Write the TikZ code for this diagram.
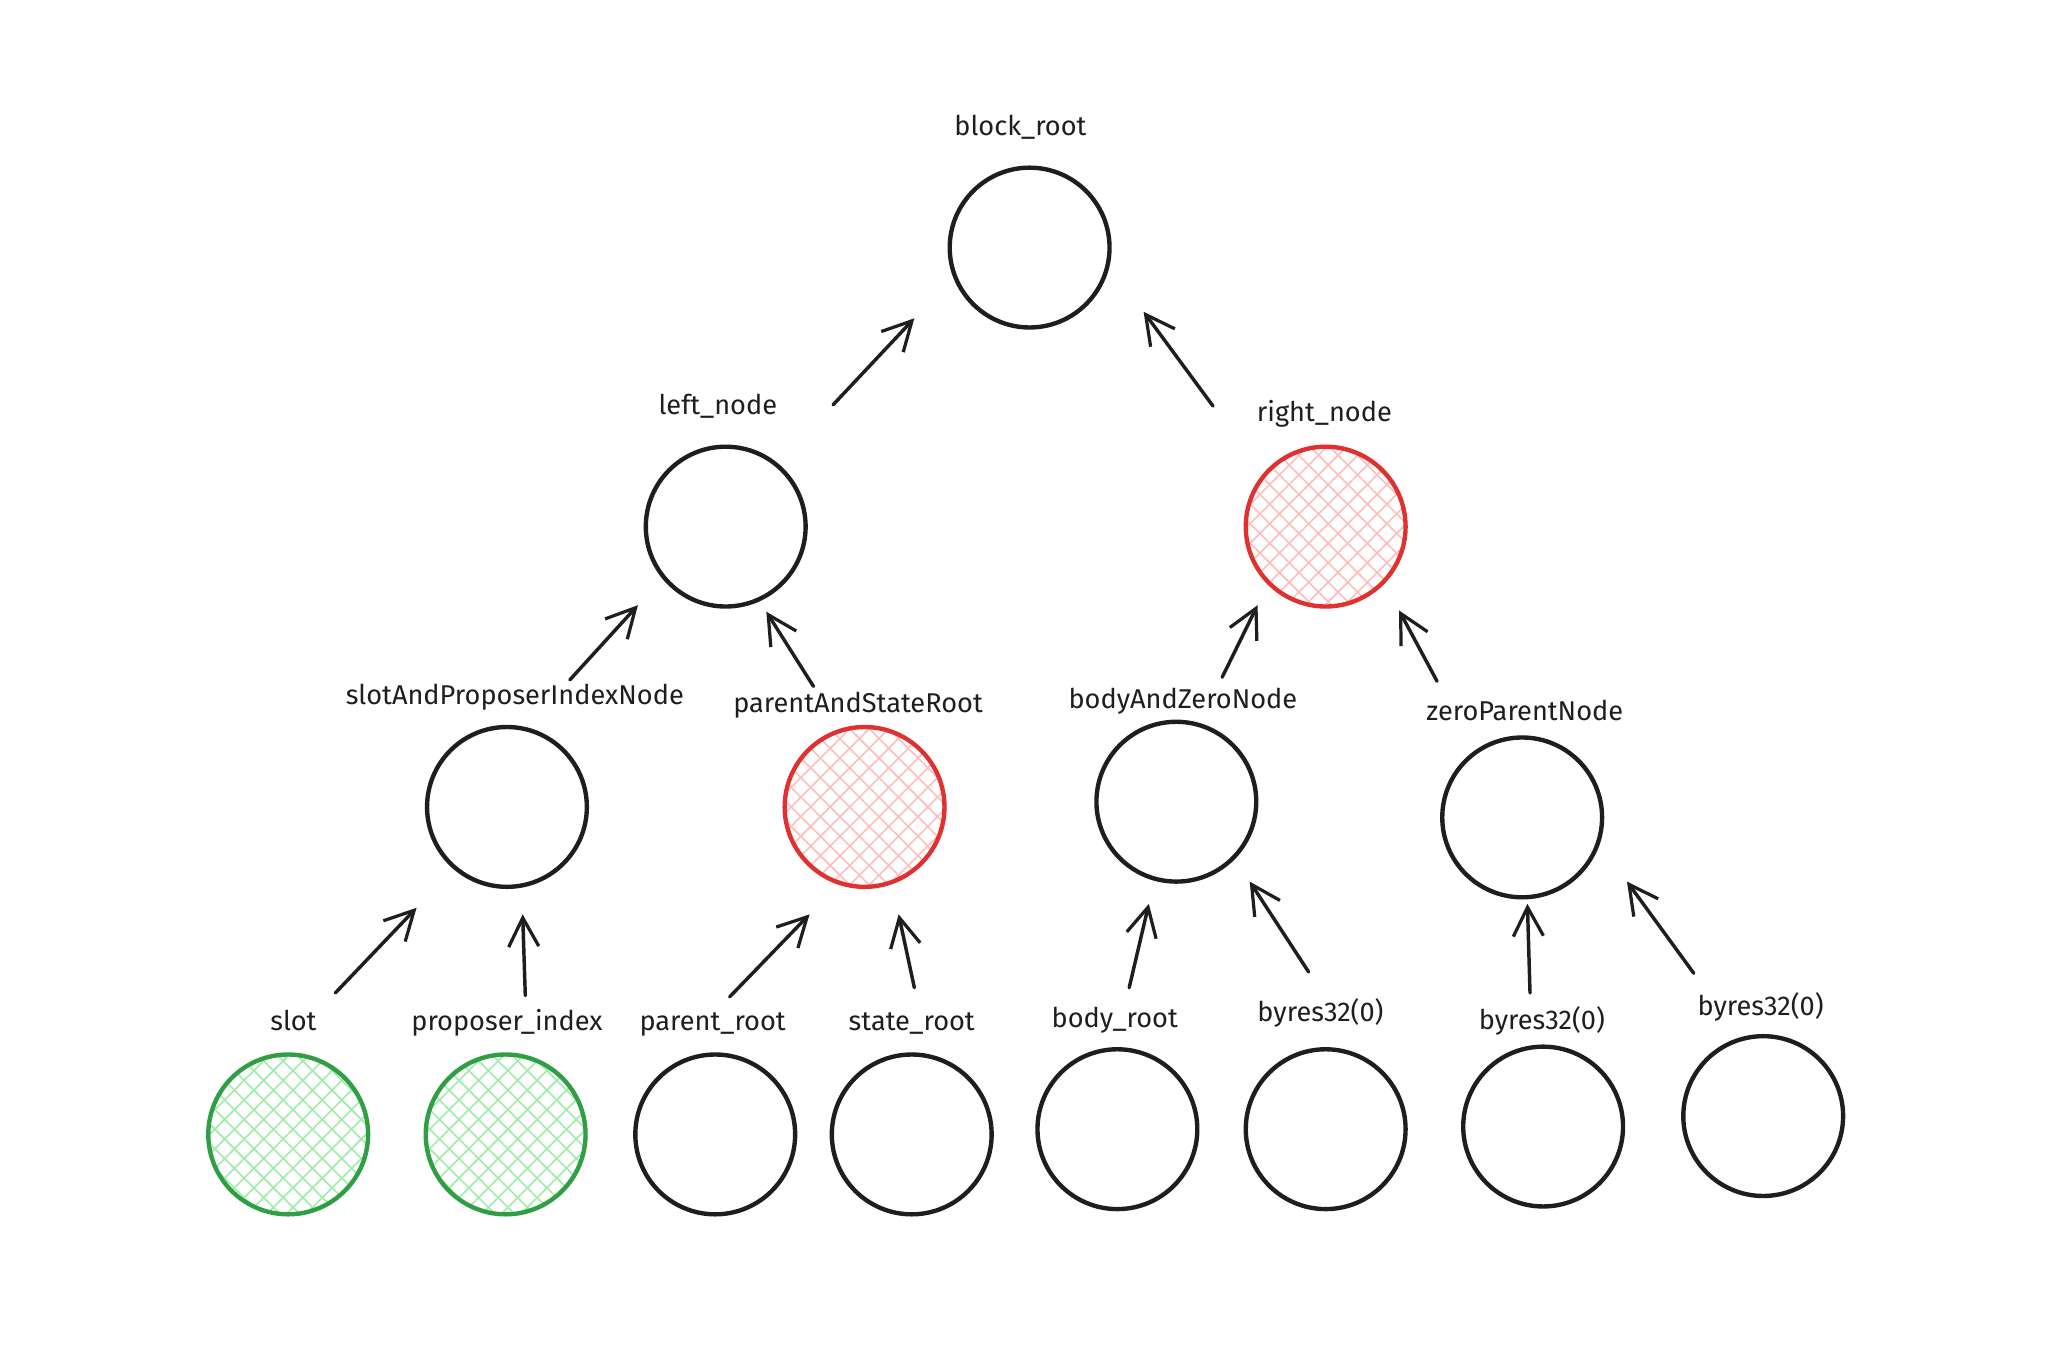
\documentclass[tikz,border=0pt]{standalone}
\usepackage{fontspec}
\setmainfont{Fira Sans}
\usetikzlibrary{arrows.meta,patterns.meta}
\definecolor{ink}{RGB}{30,30,30}
\definecolor{rouge}{RGB}{224,49,49}
\definecolor{rougefill}{RGB}{255,190,190}
\definecolor{vert}{RGB}{47,158,68}
\definecolor{vertfill}{RGB}{160,236,170}
\tikzset{
  >={Straight Barb[length=4.4mm,width=4.6mm,line width=1.4pt]},
  circ/.style={circle,draw=#1,line width=1.9pt,minimum size=24.4mm,inner sep=0pt},
  circ/.default=ink,
  hatched/.style={pattern={Hatch[angle=45,distance=6pt,line width=0.7pt]},pattern color=#1},
  lbl/.style={font=\fontsize{11.8}{14}\selectfont,text=ink,inner sep=1pt},
  up/.style={->,line width=1.5pt,draw=ink,line cap=round},
}
\begin{document}
\begin{tikzpicture}[x=0.2mm,y=-0.2mm]
  \useasboundingbox[fill=white] (0,0) rectangle (1568,1041);
  % top
  \node[circ] (broot) at (786,189) {};
  \node[lbl] (broot-l) at (779,97) {block\_root};
  % second row
  \node[circ] (lnode) at (554,402) {};
  \node[lbl] (lnode-l) at (548,310) {left\_node};
  \node[circ=rouge,hatched=rougefill] (rnode) at (1012,402) {};
  \node[lbl] (rnode-l) at (1011,316) {right\_node};
  % third row
  \node[circ] (sapi) at (387,616) {};
  \node[lbl] (sapi-l) at (393,532) {slotAndProposerIndexNode};
  \node[circ=rouge,hatched=rougefill] (pasr) at (660,616) {};
  \node[lbl] (pasr-l) at (655,538) {parentAndStateRoot};
  \node[circ] (baz) at (898,612) {};
  \node[lbl] (baz-l) at (903,535) {bodyAndZeroNode};
  \node[circ] (zp) at (1162,624) {};
  \node[lbl] (zp-l) at (1164,542) {zeroParentNode};
  % leaves
  \node[circ=vert,hatched=vertfill] (slot) at (220,866) {};
  \node[lbl] (slot-l) at (224,779) {slot};
  \node[circ=vert,hatched=vertfill] (pidx) at (386,866) {};
  \node[lbl] (pidx-l) at (387,781) {proposer\_index};
  \node[circ] (proot) at (546,866) {};
  \node[lbl] (proot-l) at (544,782) {parent\_root};
  \node[circ] (sroot) at (696,866) {};
  \node[lbl] (sroot-l) at (696,781) {state\_root};
  \node[circ] (bodyr) at (853,862) {};
  \node[lbl] (bodyr-l) at (851,779) {body\_root};
  \node[circ] (zA) at (1012,862) {};
  \node[lbl] (zA-l) at (1008,773) {byres32(0)};
  \node[circ] (zB) at (1178,860) {};
  \node[lbl] (zB-l) at (1177,779) {byres32(0)};
  \node[circ] (zC) at (1346,852) {};
  \node[lbl] (zC-l) at (1344,769) {byres32(0)};
  % arrows up the tree
  \draw[up] ([shift={(82,-93)}]lnode.center) -- ([shift={(-88,54)}]broot.center);
  \draw[up] ([shift={(-86,-92)}]rnode.center) -- ([shift={(87,49)}]broot.center);
  \draw[up] ([shift={(48,-97)}]sapi.center) -- ([shift={(-67,60)}]lnode.center);
  \draw[up] ([shift={(-39,-92)}]pasr.center) -- ([shift={(31,65)}]lnode.center);
  \draw[up] ([shift={(35,-95)}]baz.center) -- ([shift={(-52,60)}]rnode.center);
  \draw[up] ([shift={(-65,-104)}]zp.center) -- ([shift={(56,64)}]rnode.center);
  \draw[up] ([shift={(36,-108)}]slot.center) -- ([shift={(-69,77)}]sapi.center);
  \draw[up] ([shift={(15,-106)}]pidx.center) -- ([shift={(12,82)}]sapi.center);
  \draw[up] ([shift={(11,-105)}]proot.center) -- ([shift={(-42,82)}]pasr.center);
  \draw[up] ([shift={(2,-112)}]sroot.center) -- ([shift={(26,82)}]pasr.center);
  \draw[up] ([shift={(9,-108)}]bodyr.center) -- ([shift={(-21,78)}]baz.center);
  \draw[up] ([shift={(-13,-120)}]zA.center) -- ([shift={(56,61)}]baz.center);
  \draw[up] ([shift={(-10,-102)}]zB.center) -- ([shift={(4,66)}]zp.center);
  \draw[up] ([shift={(-53,-109)}]zC.center) -- ([shift={(80,49)}]zp.center);
\end{tikzpicture}
\end{document}
